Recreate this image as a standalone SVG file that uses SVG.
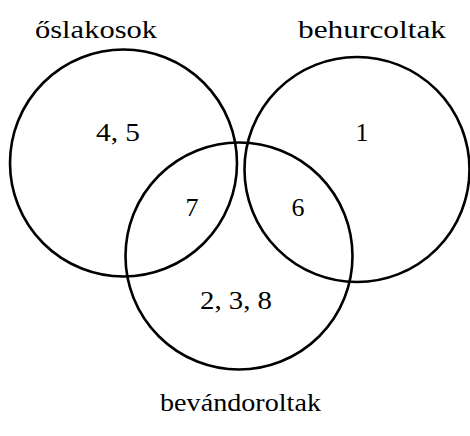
<svg xmlns="http://www.w3.org/2000/svg" width="470" height="436" viewBox="0 0 470 436">
<style>
.c{fill:none;stroke:#000;stroke-width:2.6}
.t{font-family:"Liberation Serif","Times New Roman",serif;font-size:26px;fill:#000;text-anchor:middle}
</style>
<rect width="470" height="436" fill="#fff"/>
<g id="oslakosok"><circle class="c" cx="123.5" cy="163" r="113.5"/><text class="t" x="96" y="37.5" textLength="122" lengthAdjust="spacingAndGlyphs">őslakosok</text></g>
<g id="behurcoltak"><circle class="c" cx="357" cy="169.5" r="112.5"/><text class="t" x="372" y="37.5" textLength="148" lengthAdjust="spacingAndGlyphs">behurcoltak</text></g>
<g id="bevandoroltak"><circle class="c" cx="239" cy="256" r="113.5"/><text class="t" x="240.5" y="411" textLength="161" lengthAdjust="spacingAndGlyphs">bevándoroltak</text></g>
<g id="labels">
<text class="t" x="118" y="140.5" textLength="44" lengthAdjust="spacingAndGlyphs">4, 5</text>
<text class="t" x="362" y="140.5">1</text>
<text class="t" x="192" y="216">7</text>
<text class="t" x="298" y="216">6</text>
<text class="t" x="236" y="309" textLength="72" lengthAdjust="spacingAndGlyphs">2, 3, 8</text>
</g>
<g id="connectors"/>
</svg>
